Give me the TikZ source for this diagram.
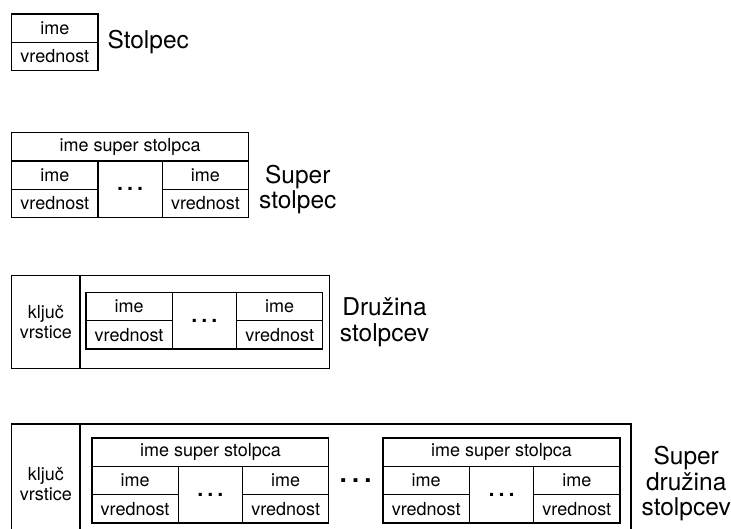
\documentclass[tikz,border=0pt]{standalone}
\usepackage{fontspec}
\setmainfont{TeX Gyre Heros}
\usepackage{tikz}
\usetikzlibrary{positioning}
\tikzstyle{cell}=[draw, rectangle, inner sep=0pt, outer sep=0pt, minimum width=86.2pt, minimum height=28.3pt, font=\fontsize{18}{20}\selectfont]
\tikzstyle{gapcell}=[cell, minimum width=64.4pt, minimum height=56.6pt, font=\fontsize{30}{30}\selectfont]
\tikzstyle{headcell}=[cell, minimum width=236.8pt]
\tikzstyle{keycell}=[cell, minimum width=68.3pt, align=center, font=\fontsize{18}{19.5}\selectfont]
\tikzstyle{bodybox}=[draw, rectangle, inner sep=0pt, outer sep=0pt]
\tikzstyle{lbl}=[inner sep=0pt, align=center, font=\fontsize{24.5}{25.5}\selectfont]
\tikzstyle{bigdots}=[inner sep=0pt, font=\fontsize{37}{37}\selectfont]

\begin{document}
\begin{tikzpicture}[x=1pt, y=-1pt, line width=1.3pt]
\useasboundingbox (0,0) rectangle (731,529);
\clip (0,0) rectangle (731,529);
%
  \node[cell, anchor=north west] (a) at (11.7,14) {ime};
  \node[cell] (aa) [below=0pt of a] {vrednost};
  \node[lbl] (stlp) [right=9pt of a.south east] {Stolpec};
%
  \node[headcell, anchor=north west] (b) at (11.7,132.7) {ime super stolpca};
  \node[cell] (ba) [below right=0pt of b.south west] {ime};
  \node[cell] (bb) [below=0pt of ba] {vrednost};
  \node[gapcell] (bc) [below right=0pt of ba.north east] {\ldots};
  \node[cell] (bd) [below right=0pt of bc.north east] {ime};
  \node[cell] (be) [below=0pt of bd] {vrednost};
  \node[lbl] (sstlp) [right=10pt of be.north east] {Super\\stolpec};
%
  \node[keycell, minimum height=92.6pt, anchor=north west] (c) at (11.7,275.7) {ključ\\vrstice};
  \node[bodybox, minimum width=249.3pt, minimum height=92.6pt] (ca) [right=0pt of c] {};
  \node[cell] (cb) [below right=16.6pt and 6pt of ca.north west] {ime};
  \node[cell] (cc) [below=0pt of cb] {vrednost};
  \node[gapcell] (cd) [below right=0pt of cb.north east] {\ldots};
  \node[cell] (ce) [below right=0pt of cd.north east] {ime};
  \node[cell] (cf) [below=0pt of ce] {vrednost};
  \node[lbl] (dr) [right=10pt of ca] {Družina\\stolpcev};
%
  \node[keycell, minimum height=120pt, anchor=north west] (d) at (11.7,424) {ključ\\vrstice};
  \node[bodybox, minimum width=551pt, minimum height=120pt] (da) [right=0pt of d] {};
  \node[headcell] (db) [below right=14pt and 12pt of da.north west] {ime super stolpca};
  \node[cell] (dc) [below right=0pt of db.south west] {ime};
  \node[cell] (dd) [below=0pt of dc] {vrednost};
  \node[gapcell] (de) [below right=0pt of dc.north east] {\ldots};
  \node[cell] (df) [below right=0pt of de.north east] {ime};
  \node[cell] (dg) [below=0pt of df] {vrednost};
%
  \node[bigdots] (dh) [right=8pt of df] {\ldots};
%
  \node[cell] (di) [right=8pt of dh] {ime};
  \node[cell] (dj) [below=0pt of di] {vrednost};
  \node[headcell] (dk) [above right=0pt of di.north west] {ime super stolpca};
  \node[gapcell] (dl) [below right=0pt of di.north east] {\ldots};
  \node[cell] (dm) [below right=0pt of dl.north east] {ime};
  \node[cell] (dn) [below=0pt of dm] {vrednost};
  \node[lbl] (sdr) [right=10pt of da] {Super\\družina\\stolpcev};
\end{tikzpicture}
\end{document}
